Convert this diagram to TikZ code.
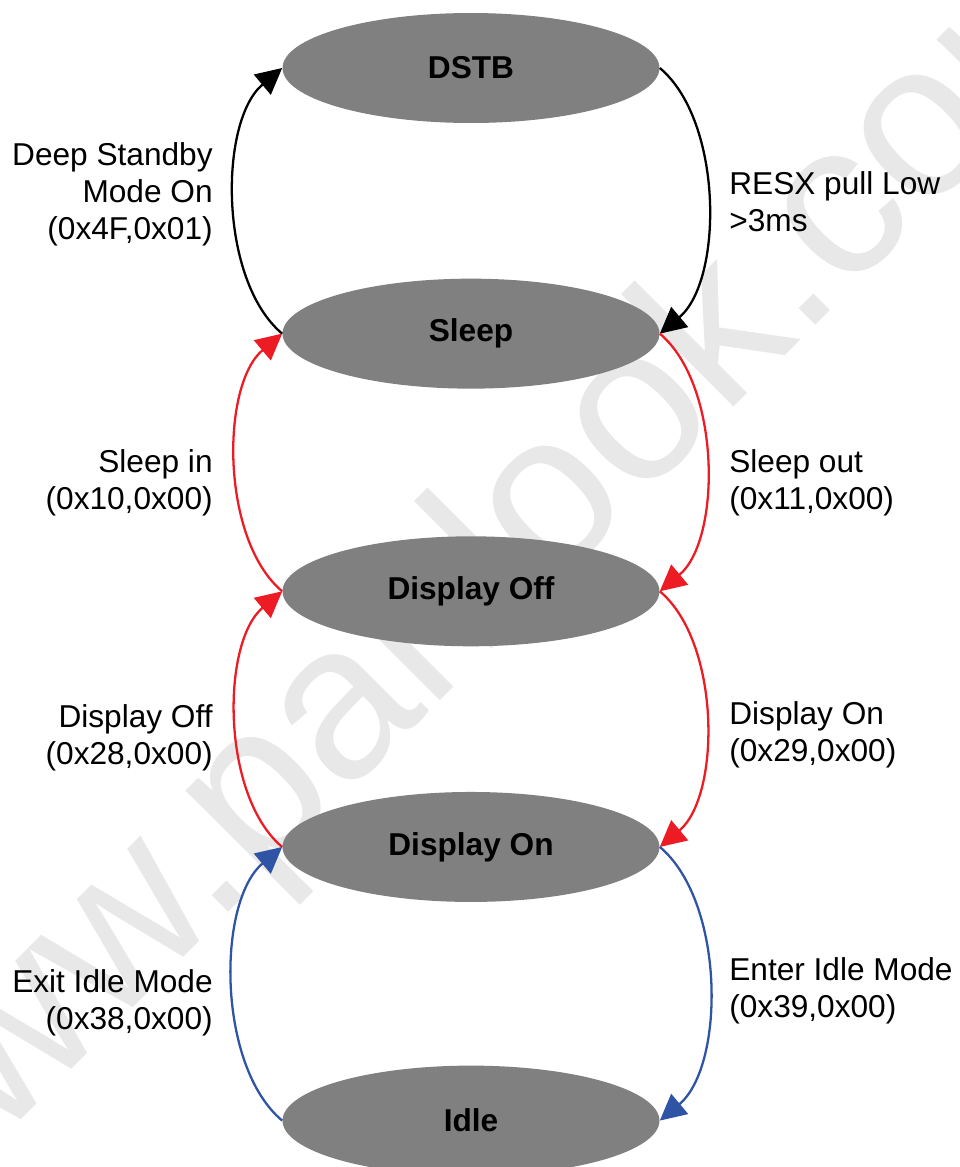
\documentclass[tikz,border=0pt]{standalone}
\usepackage{fontspec}
\setmainfont{Liberation Sans}
\usetikzlibrary{positioning,shapes.geometric,arrows.meta}
\definecolor{stategray}{RGB}{128,128,128}
\definecolor{arrred}{RGB}{237,28,36}
\definecolor{arrblue}{RGB}{47,84,165}
\definecolor{wmgray}{RGB}{232,232,232}
\tikzset{
>={Triangle[length=0.52cm,width=0.52cm]},
  state/.style={
    ellipse,
    fill=stategray,
    inner sep=0pt,
    minimum width=7.54cm,
    minimum height=2.2cm,
    font=\fontsize{18}{21}\selectfont\bfseries},
  lbl/.style={font=\fontsize{18}{21}\selectfont, inner sep=0pt},
  trans/.style={draw, line width=1.3pt, ->, looseness=0.8},
  wmark/.style={font=\fontsize{125}{125}\selectfont, text=wmgray,
    rotate=45, anchor=base, inner sep=0pt},
}
\begin{document}
\begin{tikzpicture}[x=0.02cm,y=-0.02cm]
    \useasboundingbox (0,0) rectangle (960,1167);
    % watermark
    \begin{scope}
      \clip (0,0) rectangle (960,1167);
      \node[wmark] (mark) at (512,629) {www.panlook.com};
    \end{scope}

    \node[state] (dstb) at (471,68) {DSTB};
    \node[state, below=3.1cm of dstb] (sleep) {Sleep};
    \node[state, below=2.94cm of sleep] (dispoff) {Display Off};
    \node[state, below=2.9cm of dispoff] (dispon) {Display On};
    \node[state, below=3.26cm of dispon] (idle) {Idle};

    \path[trans, black] (sleep.west) to[out=140,in=-140] (dstb.west);
    \path[trans, black] (dstb.east) to[out=-40,in=40] (sleep.east);
    \path[trans, arrred] (dispoff.west) to[out=140,in=-140] (sleep.west);
    \path[trans, arrred] (sleep.east) to[out=-40,in=40] (dispoff.east);
    \path[trans, arrred] (dispon.west) to[out=140,in=-140] (dispoff.west);
    \path[trans, arrred] (dispoff.east) to[out=-40,in=40] (dispon.east);
    \path[trans, arrblue] (idle.west) to[out=140,in=-140] (dispon.west);
    \path[trans, arrblue] (dispon.east) to[out=-40,in=40] (idle.east);

    \node[lbl, anchor=east, align=right] (lbldstbon) at (213,194) {Deep Standby\\Mode On\\(0x4F,0x01)};
    \node[lbl, anchor=west, align=left] (lblresx) at (729,202) {RESX pull Low\\>3ms};
    \node[lbl, anchor=east, align=right] (lblsleepin) at (213,483) {Sleep in\\(0x10,0x00)};
    \node[lbl, anchor=west, align=left] (lblsleepout) at (729,483) {Sleep out\\(0x11,0x00)};
    \node[lbl, anchor=east, align=right] (lbldispoff) at (213,738) {Display Off\\(0x28,0x00)};
    \node[lbl, anchor=west, align=left] (lbldispon) at (729,735) {Display On\\(0x29,0x00)};
    \node[lbl, anchor=east, align=right] (lblexit) at (213,1003) {Exit Idle Mode\\(0x38,0x00)};
    \node[lbl, anchor=west, align=left] (lblenter) at (729,991) {Enter Idle Mode\\(0x39,0x00)};
\end{tikzpicture}
\end{document}
